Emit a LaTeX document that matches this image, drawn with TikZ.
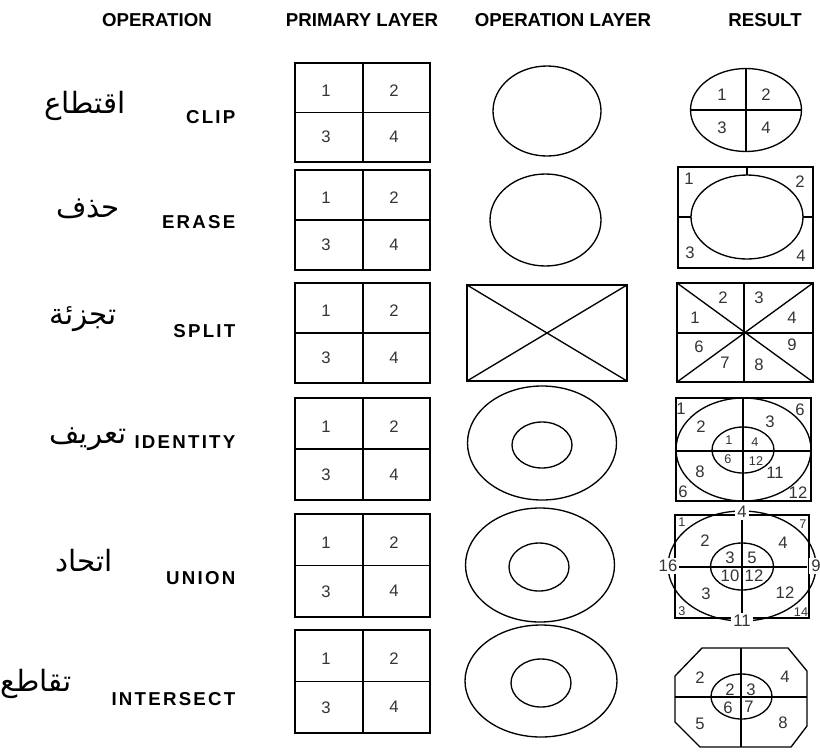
\documentclass[tikz,border=0pt]{standalone}
\usepackage{fontspec}
\setmainfont{Liberation Sans}
\newfontfamily\arabicfont[Script=Arabic]{DejaVu Sans}
\TeXXeTstate=1
\usepackage{tikz}
\ExplSyntaxOn
\NewDocumentCommand\spaced{m}{\tl_map_inline:nn{#1}{##1\kern0.12em}\unkern}
\ExplSyntaxOff

\begin{document}
\begin{tikzpicture}[x=0.75pt,y=-0.75pt,
    head/.style={font=\fontsize{14}{16}\selectfont\bfseries},
    opname/.style={anchor=east,font=\fontsize{14}{16}\selectfont\bfseries},
    arname/.style={font=\arabicfont\fontsize{22}{26}\selectfont},
    num/.style={text=black!80,font=\fontsize{12.5}{14}\selectfont,inner sep=0pt},
    small/.style={text=black!80,font=\fontsize{9.5}{11}\selectfont,inner sep=0pt},
    cell/.style={line width=1.2pt},
    outline/.style={line width=1pt}]
    \useasboundingbox (0,0) rectangle (820,754);

    % Column headings
    \node[head] (hOp) at (157,20) {OPERATION};
    \node[head] (hPrim) at (362,20) {PRIMARY LAYER};
    \node[head] (hOpLay) at (563,20) {OPERATION LAYER};
    \node[head] (hRes) at (765,20) {RESULT};

    % Operation names
    \node[opname] (clip) at (240,117) {\spaced{CLIP}};
    \node[opname] (erase) at (240,222) {\spaced{ERASE}};
    \node[opname] (split) at (240,331) {\spaced{SPLIT}};
    \node[opname] (ident) at (240,442) {\spaced{IDENTITY}};
    \node[opname] (union) at (240,578) {\spaced{UNION}};
    \node[opname] (inter) at (240,699) {\spaced{INTERSECT}};
    \node[arname] (clipAr) at (85,106) {\beginR اقتطاع\endR};
    \node[arname] (eraseAr) at (88,209) {\beginR حذف\endR};
    \node[arname] (splitAr) at (83,319) {\beginR تجزئة\endR};
    \node[arname] (identAr) at (88,439) {\beginR تعريف\endR};
    \node[arname] (unionAr) at (84,561) {\beginR اتحاد\endR};
    \node[arname] (interAr) at (36,684) {\beginR تقاطع\endR};

    % Primary layer
    \foreach \t/\b [count=\r] in {63/162,170/270,283/383,398/500,514/617,630/733}{
        \pgfmathsetmacro\m{(\t+\b)/2}
        \draw[cell] (295,\t) rectangle (430,\b);
        \draw[cell] (363,\t) -- (363,\b);
        \draw[cell] (295,\m) -- (430,\m);
        \node[num] (p\r a) at (326,{(\t+\m)/2+3}) {1};
        \node[num] (p\r b) at (394,{(\t+\m)/2+3}) {2};
        \node[num] (p\r c) at (326,{(\m+\b)/2}) {3};
        \node[num] (p\r d) at (394,{(\m+\b)/2}) {4};
    }

    % Operation layer
    \draw[outline] (547,111) ellipse [x radius=54, y radius=45];
    \draw[outline] (545.5,220) ellipse [x radius=55.5, y radius=46];
    \draw[outline] (467,285) rectangle (627,381);
    \draw[outline] (467,285) -- (627,381);
    \draw[outline] (467,381) -- (627,285);
    \draw[outline] (542,443) ellipse [x radius=74.5, y radius=57];
    \draw[outline] (542,445) ellipse [x radius=30, y radius=23];
    \draw[outline] (540,565) ellipse [x radius=74.5, y radius=57];
    \draw[outline] (539,567) ellipse [x radius=30, y radius=24];
    \draw[outline] (541,681) ellipse [x radius=76, y radius=56];
    \draw[outline] (541,683) ellipse [x radius=30, y radius=24];

    % Result: clip
    \draw[outline] (746,110) ellipse [x radius=55.5, y radius=41.5];
    \draw[outline] (746,68.5) -- (746,151.5);
    \draw[outline] (690.5,110) -- (801.5,110);
    \foreach \n/\x/\y [count=\i] in {1/722/95,2/766/95,3/722/128,4/766/128}
        \node[num] (rc\i) at (\x,\y) {\n};

    % Result: erase
    \draw[outline] (678,167) rectangle (813,268);
    \draw[outline] (747,217) ellipse [x radius=56, y radius=42];
    \draw[outline] (747,167) -- (747,175);
    \draw[outline] (678,217) -- (691,217);
    \draw[outline] (803,217) -- (813,217);
    \foreach \n/\x/\y [count=\i] in {1/689/179,2/800/182,3/690/253,4/801/256}
        \node[num] (re\i) at (\x,\y) {\n};

    % Result: split
    \draw[outline] (677,283) rectangle (813,382);
    \draw[outline] (677,283) -- (813,382);
    \draw[outline] (677,382) -- (813,283);
    \draw[outline] (744,283) -- (744,382);
    \draw[outline] (677,333) -- (813,333);
    \foreach \n/\x/\y [count=\i] in {1/695/318,2/723/298,3/759/298,4/792/318,
        6/699/347,7/725/363,8/759/365,9/792/345}
        \node[num] (rs\i) at (\x,\y) {\n};

    % Result: identity
    \draw[outline] (676,398) rectangle (811,501);
    \draw[outline] (743.5,449.5) ellipse [x radius=67.5, y radius=51.5];
    \draw[outline] (743,450) ellipse [x radius=31, y radius=23];
    \draw[outline] (743,398) -- (743,501);
    \draw[outline] (676,451) -- (811,451);
    \foreach \n/\x/\y [count=\i] in {1/681/409,6/800/410,2/701/427,3/770/422,
        8/700/472,11/775/473,6/683/492,12/798/493}
        \node[num] (ri\i) at (\x,\y) {\n};
    \foreach \n/\x/\y [count=\i] in {1/729/440,4/755/442,6/728/459,12/756/461}
        \node[small] (rii\i) at (\x,\y) {\n};

    % Result: union
    \draw[outline] (675,515) rectangle (809,618);
    \draw[outline] (742,566) ellipse [x radius=74, y radius=55];
    \draw[outline] (742,566.5) ellipse [x radius=31.5, y radius=23.5];
    \draw[line width=1.5pt] (742,519) -- (742,613);
    \draw[outline] (678,567) -- (807,567);
    \foreach \n/\x/\y [count=\i] in {2/705/541,4/783/543,3/706/594,12/785/593,
        3/730/558,5/752/558,10/730/576,12/754/576}
        \node[num] (ru\i) at (\x,\y) {\n};
    \foreach \n/\x/\y [count=\i] in {1/682/522,7/803/524,3/682/611,14/801/612}
        \node[small] (ruc\i) at (\x,\y) {\n};
    \foreach \n/\x/\y [count=\i] in {4/742/512,11/742/621,16/668/566,9/816/566}
        \node[num,fill=white,inner sep=1.5pt] (rue\i) at (\x,\y) {\n};

    % Result: intersect
    \draw[outline] (702,648) -- (788,648) -- (807,671) -- (807,726) -- (791,747)
        -- (700,747) -- (675,722) -- (675,676) -- cycle;
    \draw[outline] (741.5,696.5) ellipse [x radius=30.5, y radius=22.5];
    \draw[outline] (741,648) -- (741,747);
    \draw[outline] (675,697) -- (807,697);
    \foreach \n/\x/\y [count=\i] in {2/700/678,4/785/677,2/730/690,3/751/690,
        6/728/708,7/749/707,5/700/724,8/783/723}
        \node[num] (rx\i) at (\x,\y) {\n};
\end{tikzpicture}
\end{document}
